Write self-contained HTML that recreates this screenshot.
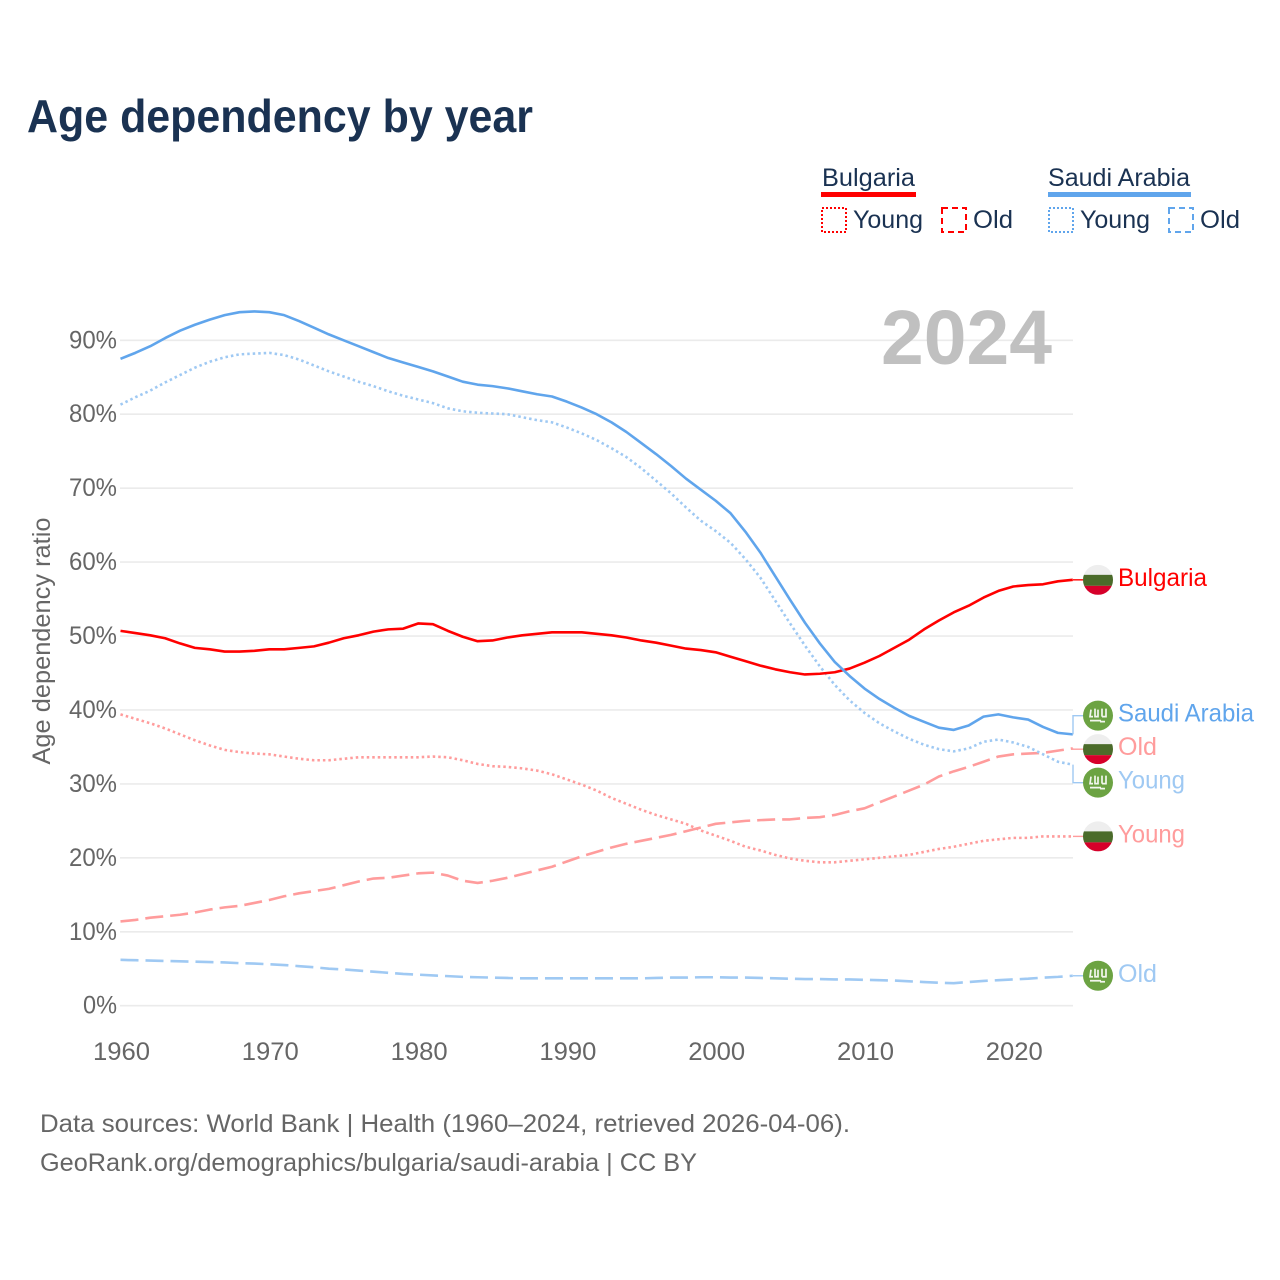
<!DOCTYPE html>
<html lang="en">
<head>
<meta charset="utf-8">
<title>Age dependency by year</title>
<style>
html,body{margin:0;padding:0;background:#fff;}
svg{display:block;font-family:"Liberation Sans",sans-serif;}
</style>
</head>
<body>
<svg id="chart" xmlns="http://www.w3.org/2000/svg" width="1280" height="1280" viewBox="0 0 1280 1280">
  <text x="27" y="132" font-size="46" font-weight="700" fill="#1a3252" textLength="506" lengthAdjust="spacingAndGlyphs">Age dependency by year</text>

  <g font-size="25" fill="#1a3252">
    <text x="822" y="186" textLength="93" lengthAdjust="spacingAndGlyphs">Bulgaria</text>
    <rect x="821" y="192" width="95" height="5" fill="#ff0000"/>
    <rect x="822" y="208" width="24" height="24" fill="none" stroke="#ff0000" stroke-width="2" stroke-dasharray="2 2"/>
    <text x="853" y="228" textLength="70" lengthAdjust="spacingAndGlyphs">Young</text>
    <rect x="942" y="208" width="24" height="24" fill="none" stroke="#ff0000" stroke-width="2" stroke-dasharray="6 4"/>
    <text x="973" y="228" textLength="40" lengthAdjust="spacingAndGlyphs">Old</text>
    <text x="1048" y="186" textLength="142" lengthAdjust="spacingAndGlyphs">Saudi Arabia</text>
    <rect x="1048" y="192" width="143" height="5" fill="#60a5ec"/>
    <rect x="1049" y="208" width="24" height="24" fill="none" stroke="#60a5ec" stroke-width="2" stroke-dasharray="2 2"/>
    <text x="1080" y="228" textLength="70" lengthAdjust="spacingAndGlyphs">Young</text>
    <rect x="1169" y="208" width="24" height="24" fill="none" stroke="#60a5ec" stroke-width="2" stroke-dasharray="6 4"/>
    <text x="1200" y="228" textLength="40" lengthAdjust="spacingAndGlyphs">Old</text>
  </g>

  <text transform="translate(50,641) rotate(-90)" text-anchor="middle" font-size="25" fill="#666666" textLength="247" lengthAdjust="spacingAndGlyphs">Age dependency ratio</text>
  <g id="grid"></g>
  <g id="yticks" font-size="25" fill="#666666"></g>
  <g id="xticks" font-size="25" fill="#666666"></g>

  <text x="881" y="364" font-size="77" font-weight="700" fill="#c0c0c0" textLength="171" lengthAdjust="spacingAndGlyphs">2024</text>

  <g id="series" fill="none"></g>
  <g id="connectors" fill="none"></g>
  <g id="ends" font-size="25"></g>

  <text x="40" y="1132" font-size="25" fill="#666666" textLength="810" lengthAdjust="spacingAndGlyphs">Data sources: World Bank | Health (1960–2024, retrieved 2026-04-06).</text>
  <text x="40" y="1171" font-size="25" fill="#666666" textLength="657" lengthAdjust="spacingAndGlyphs">GeoRank.org/demographics/bulgaria/saudi-arabia | CC BY</text>
</svg>
<script>
const firstYear = 1960;
const xTickYears = [1960, 1970, 1980, 1990, 2000, 2010, 2020];
const yTickValues = [0, 10, 20, 30, 40, 50, 60, 70, 80, 90];

const saudiTotal = [87.5,88.3,89.2,90.3,91.3,92.1,92.8,93.4,93.8,93.9,
  93.8,93.4,92.6,91.7,90.8,90.0,89.2,88.4,87.6,87.0,
  86.4,85.8,85.1,84.4,84.0,83.8,83.5,83.1,82.7,82.4,
  81.7,80.9,80.0,78.9,77.6,76.1,74.6,73.0,71.3,69.8,
  68.3,66.6,64.1,61.3,58.1,54.9,51.8,49.0,46.5,44.6,
  42.9,41.5,40.3,39.2,38.4,37.6,37.3,37.9,39.1,39.4,
  39.0,38.7,37.7,36.9,36.7];
const saudiYoung = [81.3,82.3,83.2,84.3,85.3,86.3,87.1,87.7,88.1,88.2,
  88.3,88.0,87.4,86.6,85.8,85.1,84.4,83.8,83.1,82.5,
  82.0,81.5,80.8,80.4,80.2,80.1,80.0,79.6,79.2,78.9,
  78.2,77.4,76.5,75.4,74.2,72.7,71.0,69.3,67.4,65.6,
  64.2,62.6,60.4,57.9,54.8,51.7,48.7,45.9,43.4,41.3,
  39.6,38.2,37.1,36.1,35.3,34.7,34.4,34.8,35.7,36.0,
  35.6,35.0,34.0,33.0,32.6];
const saudiOld = [6.2,6.15,6.1,6.05,6.0,5.95,5.9,5.85,5.75,5.7,
  5.6,5.5,5.35,5.2,5.0,4.9,4.75,4.6,4.45,4.3,
  4.2,4.1,4.0,3.9,3.85,3.8,3.75,3.7,3.7,3.7,
  3.7,3.7,3.7,3.7,3.7,3.7,3.75,3.8,3.8,3.85,
  3.85,3.8,3.8,3.75,3.7,3.65,3.6,3.6,3.55,3.55,
  3.5,3.45,3.4,3.3,3.2,3.1,3.05,3.2,3.35,3.45,
  3.55,3.65,3.8,3.9,4.05];
const bulgariaTotal = [50.7,50.4,50.1,49.7,49.0,48.4,48.2,47.9,47.9,48.0,
  48.2,48.2,48.4,48.6,49.1,49.7,50.1,50.6,50.9,51.0,
  51.7,51.6,50.7,49.9,49.3,49.4,49.8,50.1,50.3,50.5,
  50.5,50.5,50.3,50.1,49.8,49.4,49.1,48.7,48.3,48.1,
  47.8,47.2,46.6,46.0,45.5,45.1,44.8,44.9,45.1,45.6,
  46.4,47.3,48.4,49.5,50.9,52.1,53.2,54.1,55.2,56.1,
  56.7,56.9,57.0,57.4,57.6];
const bulgariaYoung = [39.4,38.8,38.2,37.5,36.7,35.9,35.2,34.6,34.3,34.1,
  34.0,33.7,33.4,33.2,33.2,33.4,33.6,33.6,33.6,33.6,
  33.6,33.7,33.6,33.2,32.7,32.4,32.3,32.1,31.8,31.3,
  30.6,29.9,29.1,28.1,27.3,26.5,25.8,25.2,24.6,23.7,
  23.0,22.3,21.5,21.0,20.4,19.9,19.6,19.4,19.4,19.6,
  19.8,20.0,20.2,20.4,20.8,21.2,21.5,21.9,22.3,22.5,
  22.7,22.7,22.9,22.9,22.9];
const bulgariaOld = [11.4,11.6,11.9,12.1,12.3,12.6,13.0,13.3,13.5,13.9,
  14.3,14.8,15.2,15.5,15.8,16.3,16.8,17.2,17.3,17.6,
  17.9,18.0,17.6,16.9,16.6,16.9,17.3,17.8,18.3,18.8,
  19.5,20.2,20.8,21.4,21.9,22.3,22.7,23.1,23.6,24.1,
  24.6,24.8,25.0,25.1,25.2,25.2,25.4,25.5,25.8,26.3,
  26.7,27.5,28.3,29.1,29.9,31.0,31.7,32.3,33.0,33.7,
  34.0,34.1,34.2,34.5,34.8];

const SVGNS = 'http://www.w3.org/2000/svg';
function xScale(year) { return 120.5 + (year - 1960) * (1072.8 - 120.5) / 64; }
function yScale(v) { return 1005.7 - v * (1005.7 - 340.3) / 90; }
function make(tag, parent) {
  const el = document.createElementNS(SVGNS, tag);
  parent.appendChild(el);
  return el;
}

const grid = document.getElementById('grid');
const yticks = document.getElementById('yticks');
yTickValues.forEach(function (v) {
  const line = make('line', grid);
  
  
  line.setAttribute('x1', 120);
  line.setAttribute('x2', 1073);
  line.setAttribute('y1', yScale(v));
  line.setAttribute('y2', yScale(v));
  line.setAttribute('stroke', '#ebebeb');
  line.setAttribute('stroke-width', 1.6);
  const t = make('text', yticks);
  
  
  t.setAttribute('x', 117);
  t.setAttribute('y', yScale(v) + 8);
  t.setAttribute('text-anchor', 'end');
  t.setAttribute('textLength', v === 0 ? 34 : 48);
  t.setAttribute('lengthAdjust', 'spacingAndGlyphs');
  t.textContent = v + '%';
});

const xticks = document.getElementById('xticks');
xTickYears.forEach(function (yr) {
  const t = make('text', xticks);
  
  
  t.setAttribute('x', xScale(yr) + 1);
  t.setAttribute('y', 1060);
  t.setAttribute('text-anchor', 'middle');
  t.setAttribute('textLength', 57);
  t.setAttribute('lengthAdjust', 'spacingAndGlyphs');
  t.textContent = String(yr);
});

const seriesList = [
  { id: 'saudi-old', values: saudiOld, color: '#9fc9f3', dash: '18 7', label: 'Old', flag: 'sa' },
  { id: 'bulgaria-old', values: bulgariaOld, color: '#ff9c9c', dash: '18 7', label: 'Old', flag: 'bg' },
  { id: 'bulgaria-young', values: bulgariaYoung, color: '#ff9c9c', dash: '2.5 3', label: 'Young', flag: 'bg' },
  { id: 'saudi-young', values: saudiYoung, color: '#9fc9f3', dash: '2.5 3', label: 'Young', flag: 'sa' },
  { id: 'bulgaria-total', values: bulgariaTotal, color: '#ff0000', dash: null, label: 'Bulgaria', flag: 'bg' },
  { id: 'saudi-total', values: saudiTotal, color: '#60a5ec', dash: null, label: 'Saudi Arabia', flag: 'sa' }
];

const seriesGroup = document.getElementById('series');
seriesList.forEach(function (s) {
  const path = make('path', seriesGroup);
  
  
  path.setAttribute('d', s.values.map(function (v, i) {
    return (i ? 'L' : 'M') + xScale(firstYear + i).toFixed(2) + ' ' + yScale(v).toFixed(2);
  }).join(' '));
  path.setAttribute('stroke', s.color);
  path.setAttribute('stroke-width', 2.6);
  path.setAttribute('stroke-linejoin', 'round');
  if (s.dash) path.setAttribute('stroke-dasharray', s.dash);
});

/* De-overlap end labels: merge clusters that would collide, keep each cluster centred. */
const minGap = 33.5;
const items = seriesList.map(function (s) {
  return { s: s, end: yScale(s.values[s.values.length - 1]) };
}).sort(function (a, b) { return a.end - b.end; });
let clusters = items.map(function (it) { return { members: [it], mean: it.end }; });
let merged = true;
while (merged) {
  merged = false;
  for (let i = 0; i < clusters.length - 1; i++) {
    const a = clusters[i], b = clusters[i + 1];
    const aBottom = a.mean + (a.members.length - 1) * minGap / 2;
    const bTop = b.mean - (b.members.length - 1) * minGap / 2;
    if (bTop - aBottom < minGap) {
      const m = a.members.concat(b.members);
      const sum = m.reduce(function (acc, it) { return acc + it.end; }, 0);
      clusters.splice(i, 2, { members: m, mean: sum / m.length });
      merged = true;
      break;
    }
  }
}
clusters.forEach(function (c) {
  c.members.forEach(function (it, i) {
    it.pos = c.mean + (i - (c.members.length - 1) / 2) * minGap;
  });
});

const connectors = document.getElementById('connectors');
const ends = document.getElementById('ends');
const labelWidths = { 'Bulgaria': 89, 'Saudi Arabia': 136, 'Old': 39, 'Young': 67 };
const cx = 1098;
items.forEach(function (it) {
  const s = it.s;
  const lightColor = s.id === 'bulgaria-total' ? '#ff0000' : (s.id === 'saudi-total' ? '#9fc9f3' : s.color);
  const c = make('path', connectors);
  
  
  c.setAttribute('d', 'M1073 ' + it.end.toFixed(2) + ' L1073 ' + it.pos.toFixed(2) + ' L1084 ' + it.pos.toFixed(2));
  c.setAttribute('stroke', lightColor);
  c.setAttribute('stroke-width', 1.4);

  const g = make('g', ends);
  
  
  const cy = it.pos;
  const circle = make('circle', g);
  circle.setAttribute('cx', cx);
  circle.setAttribute('cy', cy);
  circle.setAttribute('r', 15);
  if (s.flag === 'sa') {
    circle.setAttribute('fill', '#6ca343');
    const mark = make('path', g);
    mark.setAttribute('d',
      'M' + (cx - 7) + ' ' + (cy - 6) + 'l-1 7h3 ' +
      'M' + (cx - 3) + ' ' + (cy - 7) + 'v8h3v-7 ' +
      'M' + (cx + 4) + ' ' + (cy - 7) + 'v8 ' +
      'M' + (cx + 8) + ' ' + (cy - 7) + 'v8h-4 ' +
      'M' + (cx - 8) + ' ' + (cy + 5) + 'h11 ' +
      'M' + (cx + 2) + ' ' + (cy + 6) + 'h5');
    mark.setAttribute('fill', 'none');
    mark.setAttribute('stroke', '#f2f6ee');
    mark.setAttribute('stroke-width', 1.7);
  } else {
    circle.setAttribute('fill', '#eeeeee');
    const clipId = 'clip-' + s.id;
    const clip = make('clipPath', g);
    clip.setAttribute('id', clipId);
    const cc = make('circle', clip);
    cc.setAttribute('cx', cx);
    cc.setAttribute('cy', cy);
    cc.setAttribute('r', 15);
    const green = make('rect', g);
    green.setAttribute('x', cx - 15);
    green.setAttribute('y', cy - 5);
    green.setAttribute('width', 30);
    green.setAttribute('height', 11);
    green.setAttribute('fill', '#4b6b2a');
    green.setAttribute('clip-path', 'url(#' + clipId + ')');
    const red = make('rect', g);
    red.setAttribute('x', cx - 15);
    red.setAttribute('y', cy + 6);
    red.setAttribute('width', 30);
    red.setAttribute('height', 9);
    red.setAttribute('fill', '#d6002a');
    red.setAttribute('clip-path', 'url(#' + clipId + ')');
  }

  const t = make('text', ends);
  
  
  t.setAttribute('x', 1118);
  t.setAttribute('y', cy + 6);
  t.setAttribute('fill', s.color);
  t.setAttribute('textLength', labelWidths[s.label]);
  t.setAttribute('lengthAdjust', 'spacingAndGlyphs');
  t.textContent = s.label;
});
</script>
</body>
</html>
